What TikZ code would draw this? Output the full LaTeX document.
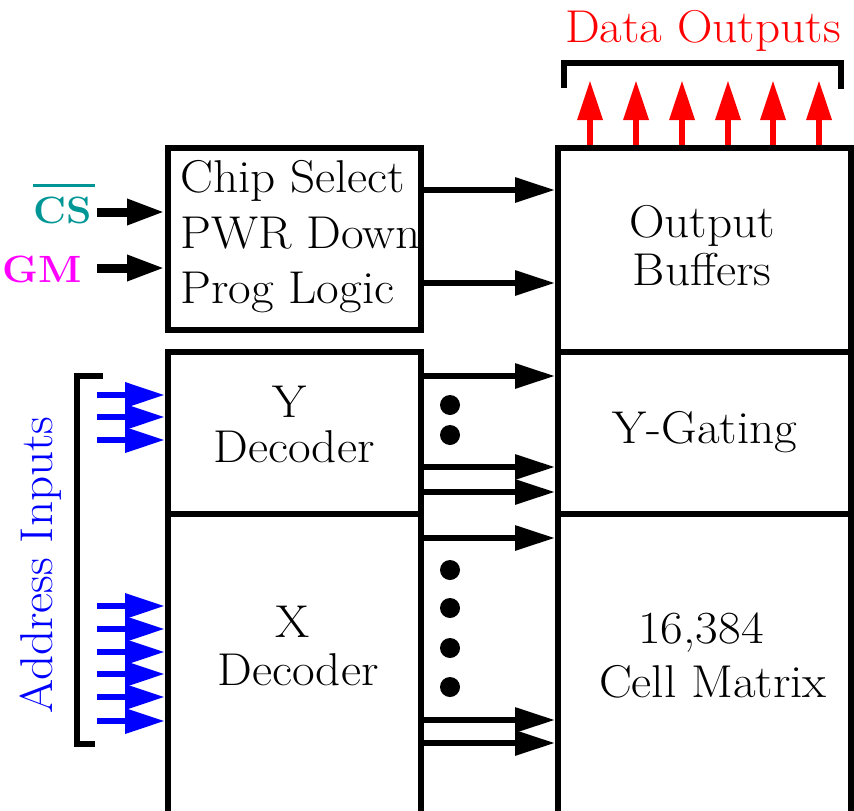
\documentclass[tikz,border=0pt]{standalone}
\usepackage{fontspec}
\setmainfont{Latin Modern Roman}[FakeStretch=1.07]
\usetikzlibrary{arrows.meta}
\definecolor{csteal}{RGB}{0,150,150}
\definecolor{pgmmag}{RGB}{255,0,255}
\begin{document}
\begin{tikzpicture}[x=1pt,y=-1pt,
  box/.style={draw, line width=6pt, rectangle, inner sep=0pt},
  lbl/.style={inner sep=0pt, font=\fontsize{46}{50}\selectfont},
  sig/.style={inner sep=0pt, font=\fontsize{38}{42}\selectfont\bfseries},
  arr/.style={line width=6pt, -{Triangle[length=40pt,width=24pt]}},
  inarr/.style={line width=9pt, -{Triangle[length=38pt,width=24pt]}},
  barr/.style={blue, line width=6.5pt, -{Triangle[length=40pt,width=24pt]}},
  rarr/.style={red, line width=6.5pt, -{Triangle[length=40pt,width=24pt]}},
  brk/.style={line width=6pt},
  dotnode/.style={circle, fill, inner sep=0pt, minimum size=20pt}
]
\useasboundingbox (0,0) rectangle (854,811);
\clip (0,0) rectangle (854,811);

% boxes
\node[box, minimum width=253pt, minimum height=182pt] (chip) at (294.5,239) {};
\node[box, minimum width=253pt, minimum height=162pt] (ydec) at (294.5,433) {};
\node[box, minimum width=253pt, minimum height=336pt] (xdec) at (294.5,682) {};
\node[box, minimum width=293pt, minimum height=204pt] (outb) at (704.5,250) {};
\node[box, minimum width=293pt, minimum height=162pt] (ygate) at (704.5,433) {};
\node[box, minimum width=293pt, minimum height=336pt] (cell) at (704.5,682) {};

% texts
\node[lbl, anchor=base west] (tchip) at (180,192) {Chip Select};
\node[lbl, anchor=base west] (tpwr) at (180,248) {PWR Down};
\node[lbl, anchor=base west] (tprog) at (180,303) {Prog Logic};
\node[lbl, anchor=base] (ty) at (290,417) {Y};
\node[lbl, anchor=base] (tyd) at (294,462) {Decoder};
\node[lbl, anchor=base] (tx) at (293,637) {X};
\node[lbl, anchor=base] (txd) at (298,685) {Decoder};
\node[lbl, anchor=base] (tout) at (702,237) {Output};
\node[lbl, anchor=base] (tbuf) at (702,285) {Buffers};
\node[lbl, anchor=base] (tyg) at (705,443) {Y-Gating};
\node[lbl, anchor=base] (tnum) at (701,643) {16,384};
\node[lbl, anchor=base] (tcell) at (713,697) {Cell Matrix};
\node[lbl, anchor=base, text=red] (tdata) at (703,42) {Data Outputs};
\node[lbl, anchor=base, text=blue, rotate=90] (taddr) at (52,565) {Address Inputs};
\node[sig, anchor=base east, text=csteal] (cs) at (92,223) {\rlap{\rule[36.5pt]{62pt}{3pt}}CS};
\node[sig, anchor=base east, text=pgmmag] (pgm) at (82,282) {PGM};

% brackets
\draw[brk] (564,88) -- (564,63) -- (841,63) -- (841,89);
\draw[brk] (103,376) -- (77,376) -- (77,744) -- (95,744);

% control inputs
\draw[inarr] (chip.west |- 0,212) ++(-68,0) -- (chip.west |- 0,212);
\draw[inarr] (chip.west |- 0,268) ++(-68,0) -- (chip.west |- 0,268);

% address inputs
\foreach \yy in {395,417,440}
  \draw[barr] (ydec.west |- 0,\yy) ++(-68,0) -- (ydec.west |- 0,\yy);
\foreach \yy in {606,629,652,674,697,721}
  \draw[barr] (xdec.west |- 0,\yy) ++(-68,0) -- (xdec.west |- 0,\yy);

% data outputs
\foreach \xx in {590,636,682,728,773,819}
  \draw[rarr] (outb.north -| \xx,0) -- ++(0,-65);

% internal connectors
\draw[arr] (chip.east |- 0,190) -- (outb.west |- 0,190);
\draw[arr] (chip.east |- 0,283) -- (outb.west |- 0,283);
\draw[arr] (ydec.east |- 0,376) -- (ygate.west |- 0,376);
\draw[arr] (ydec.east |- 0,467) -- (ygate.west |- 0,467);
\draw[arr] (ydec.east |- 0,492) -- (ygate.west |- 0,492);
\draw[arr] (xdec.east |- 0,538) -- (cell.west |- 0,538);
\draw[arr] (xdec.east |- 0,720) -- (cell.west |- 0,720);
\draw[arr] (xdec.east |- 0,743) -- (cell.west |- 0,743);

% dots
\foreach \yy [count=\i] in {405,435,570,608,648,687}
  \node[dotnode] (d\i) at (450,\yy) {};
\end{tikzpicture}
\end{document}
